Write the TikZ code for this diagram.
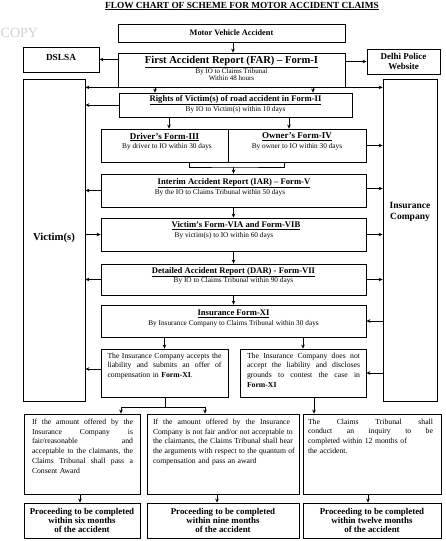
\documentclass[tikz,border=0pt]{standalone}
\usepackage{fontspec}
\setmainfont{Liberation Serif}
\usetikzlibrary{arrows.meta}
\newcommand{\jl}[2]{\leavevmode\hbox to #1{\spaceskip=.3em plus 1fil\relax #2}}
\begin{document}
\begin{tikzpicture}[x=1pt,y=-1pt,
  box/.style={draw, line width=0.8pt, rectangle, inner sep=0pt},
  arr/.style={-{Stealth[length=4pt,width=3.6pt]}, line width=0.7pt},
  ln/.style={line width=0.7pt},
  txt/.style={inner sep=0pt, align=center},
  ttl/.style={txt, font=\fontsize{8.6}{9.5}\selectfont\bfseries},
  sub/.style={txt, font=\fontsize{7.3}{8.5}\selectfont},
  body/.style={inner sep=0pt, align=left, font=\fontsize{7.7}{9.9}\selectfont},
  prc/.style={txt, font=\fontsize{8.9}{9.3}\selectfont\bfseries}
]
\useasboundingbox (0,0) rectangle (445,541);
\fill[white] (0,0) rectangle (445,541);

% watermark
\node[txt, text=black!18, font=\fontsize{14}{14}\selectfont, anchor=west] (copy) at (0.5,33) {COPY};

% title
\node[txt, font=\fontsize{9.3}{10}\selectfont\bfseries] (title) at (242,6) {\underline{FLOW CHART OF SCHEME FOR MOTOR ACCIDENT CLAIMS}};

% boxes
\node[box, minimum width=227pt, minimum height=18pt] (mva) at (231.5,33) {};
\node[box, minimum width=76pt, minimum height=25pt] (dslsa) at (61,59.5) {};
\node[box, minimum width=227pt, minimum height=34pt] (far) at (231.5,70) {};
\node[box, minimum width=73pt, minimum height=25pt] (dpw) at (403.5,61.5) {};
\node[box, minimum width=62pt, minimum height=322pt] (victims) at (54,240) {};
\node[box, minimum width=54pt, minimum height=322pt] (ins) at (410,240) {};
\node[box, minimum width=233pt, minimum height=24pt] (rights) at (235.5,105) {};
\node[box, minimum width=127pt, minimum height=33pt] (drv) at (164.5,145.5) {};
\node[box, minimum width=138pt, minimum height=33pt] (own) at (297,145.5) {};
\node[box, minimum width=265pt, minimum height=33pt] (iar) at (233.5,190.5) {};
\node[box, minimum width=265pt, minimum height=33pt] (vform) at (233.5,234.5) {};
\node[box, minimum width=265pt, minimum height=31pt] (dar) at (233.5,279.5) {};
\node[box, minimum width=265pt, minimum height=32pt] (ixi) at (233.5,321) {};
\node[box, minimum width=127pt, minimum height=48pt] (acc) at (164.5,373) {};
\node[box, minimum width=126pt, minimum height=48pt] (nacc) at (303,373) {};
\node[box, minimum width=116pt, minimum height=80pt] (b1) at (82,454) {};
\node[box, minimum width=152pt, minimum height=80pt] (b2) at (223,454) {};
\node[box, minimum width=138pt, minimum height=80pt] (b3) at (372,454) {};
\node[box, minimum width=116pt, minimum height=35pt] (p1) at (82,520.5) {};
\node[box, minimum width=152pt, minimum height=35pt] (p2) at (223,520.5) {};
\node[box, minimum width=138pt, minimum height=35pt] (p3) at (372,520.5) {};

% texts
\node[ttl, font=\fontsize{8.3}{9.5}\selectfont\bfseries] (mvaT) at (mva.center) {Motor Vehicle Accident};
\node[ttl, font=\fontsize{9.3}{10}\selectfont\bfseries] (dslsaT) at (61,57) {DSLSA};
\node[ttl, font=\fontsize{10.6}{11}\selectfont\bfseries] (farT) at (231.5,62) {\underline{First Accident Report (FAR) – Form-I}};
\node[sub, font=\fontsize{7}{7.3}\selectfont] (farS) at (231.5,74.5) {By IO to Claims Tribunal\\Within 48 hours};
\node[ttl, font=\fontsize{9}{9.5}\selectfont\bfseries] (dpwT) at (dpw.center) {Delhi Police\\Website};
\node[txt, font=\fontsize{10.7}{12}\selectfont\bfseries] (victimsT) at (54,238) {Victim(s)};
\node[txt, font=\fontsize{9.5}{10.5}\selectfont\bfseries] (insT) at (410,212) {Insurance\\Company};
\node[ttl] (rightsT) at (235.5,100) {\underline{Rights of Victim(s) of road accident in Form-II}};
\node[sub] (rightsS) at (235.5,109.5) {By IO to Victim(s) within 10 days};
\node[ttl, font=\fontsize{9}{10}\selectfont\bfseries] (drvT) at (164.5,137) {\underline{Driver’s Form-III}};
\node[sub] (drvS) at (167,146.5) {By driver to IO within 30 days};
\node[ttl, font=\fontsize{9}{10}\selectfont\bfseries] (ownT) at (297,137) {\underline{Owner’s Form-IV}};
\node[sub] (ownS) at (297,146.5) {By owner to IO within 30 days};
\node[ttl] (iarT) at (234,183) {\underline{Interim Accident Report (IAR) – Form-V}};
\node[sub] (iarS) at (220,192.5) {By the IO to Claims Tribunal within 50 days};
\node[ttl] (vformT) at (236,226) {\underline{Victim’s Form-VIA and Form-VIB}};
\node[sub] (vformS) at (224,235.5) {By victim(s) to IO within 60 days};
\node[ttl] (darT) at (233.5,272) {\underline{Detailed Accident Report (DAR) - Form-VII}};
\node[sub] (darS) at (233.5,281) {By IO to Claims Tribunal within 90 days};
\node[ttl] (ixiT) at (233.5,314) {\underline{Insurance Form-XI}};
\node[sub] (ixiS) at (233.5,323.5) {By Insurance Company to Claims Tribunal within 30 days};

\node[body, text width=114pt, anchor=north] (accT) at (164.5,352.5) {%
\jl{114pt}{The Insurance Company accepts the}\\
\jl{114pt}{liability and submits an offer of}\\
compensation in \textbf{Form-XI}.};
\node[body, text width=113pt, anchor=north] (naccT) at (303.5,352.5) {%
\jl{113pt}{The Insurance Company does not}\\
\jl{113pt}{accept the liability and discloses}\\
\jl{113pt}{grounds to contest the case in}\\
\textbf{Form-XI}};

\node[body, text width=101pt, anchor=north] (b1T) at (82.5,418.5) {%
\jl{101pt}{If the amount offered by the}\\
\jl{101pt}{Insurance Company is}\\
\jl{101pt}{fair/reasonable and}\\
\jl{101pt}{acceptable to the claimants, the}\\
\jl{101pt}{Claims Tribunal shall pass a}\\
Consent Award};
\node[body, text width=137pt, anchor=north] (b2T) at (221.5,418.5) {%
\jl{137pt}{If the amount offered by the Insurance}\\
\jl{137pt}{Company is not fair and/or not acceptable to}\\
\jl{137pt}{the claimants, the Claims Tribunal shall hear}\\
\jl{137pt}{the arguments with respect to the quantum of}\\
compensation and pass an award};
\node[body, text width=125pt, anchor=north] (b3T) at (370.5,418.5) {%
\jl{125pt}{The Claims Tribunal shall}\\
\jl{125pt}{conduct an inquiry to be}\\
completed within 12 months of\\
the accident.};

\node[prc] (p1T) at (p1.center) {Proceeding to be completed\\within six months\\of the accident};
\node[prc] (p2T) at (p2.center) {Proceeding to be completed\\within nine months\\of the accident};
\node[prc] (p3T) at (p3.center) {Proceeding to be completed\\within twelve months\\of the accident};

% connectors
\draw[arr] ([xshift=1.5pt]mva.south) -- ([xshift=1.5pt]far.north);
\draw[arr] (far.west |- dslsa.east) -- (dslsa.east);
\draw[arr] (far.east |- dpw.west) -- (dpw.west);
\draw[arr] (far.south west) -- (far.south west -| victims.east);
\draw[arr] (far.south east) -- (far.south east -| ins.west);
\draw[arr] ([xshift=-76.5pt]far.south) -- ([xshift=-76.5pt]far.south |- rights.north);
\draw[arr] ([xshift=81.5pt]far.south) -- ([xshift=81.5pt]far.south |- rights.north);
\draw[arr] (rights.west) -- (rights.west -| victims.east);
\draw[arr] ([xshift=-66.5pt]rights.south) -- ([xshift=-66.5pt]rights.south |- drv.north);
\draw[arr] ([xshift=53.5pt]rights.south) -- ([xshift=53.5pt]rights.south |- own.north);
\draw[arr] (own.east) -- (own.east -| ins.west);
\coordinate (m1) at (233.5,167);
\draw[ln] ([xshift=24.5pt]drv.south) |- (m1) -| ([xshift=-13pt]own.south);
\draw[arr] (m1) -- (iar.north);
\draw[arr] (iar.west) -- (iar.west -| victims.east);
\draw[arr] ([yshift=2pt]iar.east) -- ([yshift=2pt]iar.east -| ins.west);
\draw[arr] (iar.south) -- (vform.north);
\draw[arr] (victims.east |- vform.west) -- (vform.west);
\draw[arr] (vform.east) -- (vform.east -| ins.west);
\draw[arr] (vform.south) -- (dar.north);
\draw[arr] (dar.west) -- (dar.west -| victims.east);
\draw[arr] (dar.east) -- (dar.east -| ins.west);
\draw[arr] (dar.south) -- (ixi.north);
\draw[arr] (ins.west |- ixi.east) -- (ixi.east);
\draw[arr] (ixi.south -| acc.north) -- (acc.north);
\draw[arr] (ixi.south -| nacc.north) -- (nacc.north);
\draw[arr] ([yshift=4pt]acc.west) -- ([yshift=4pt]acc.west -| victims.east);
\draw[arr] (ins.west |- nacc.east) -- (nacc.east);
\coordinate (j1) at (165.5,407);
\draw[ln] ([xshift=1pt]acc.south) -- (j1);
\draw[arr] (j1) -| ([xshift=39pt]b1.north);
\draw[arr] (j1) -| ([xshift=-18pt]b2.north);
\draw[arr] ([xshift=11pt]nacc.south) -- ([xshift=11pt]nacc.south |- b3.north);
\draw[arr] ([xshift=-2pt]b1.south) -- ([xshift=-2pt]p1.north);
\draw[arr] ([xshift=-6pt]b2.south) -- ([xshift=-6pt]p2.north);
\draw[arr] ([xshift=-4pt]b3.south) -- ([xshift=-4pt]p3.north);
\end{tikzpicture}
\end{document}
